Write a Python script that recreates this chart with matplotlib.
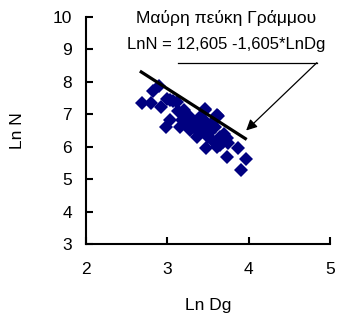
import numpy as np
import matplotlib.pyplot as plt

plt.rcParams['font.family'] = ['Liberation Sans', 'DejaVu Sans']

# observed points (Ln Dg, Ln N)
ln_dg = [2.69, 2.80, 2.82, 2.90, 2.92, 3.00, 3.03, 3.07, 3.12, 3.20, 3.03, 2.99,
         3.18, 3.28, 3.28, 3.36, 3.46, 3.40, 3.46, 3.40, 3.36, 3.50, 3.48, 3.61,
         3.59, 3.55, 3.65, 3.65, 3.73, 3.75, 3.61, 3.87, 3.74, 3.97, 3.91, 3.47,
         3.62, 3.16, 3.22, 3.32, 3.42, 3.52, 3.56, 3.70, 3.25, 3.44, 3.13, 3.68,
         3.38, 3.30]
ln_n = [7.36, 7.36, 7.72, 7.87, 7.23, 7.46, 7.44, 7.40, 7.39, 7.13, 6.82, 6.61,
        6.82, 6.92, 6.51, 6.72, 7.13, 6.92, 6.61, 6.41, 6.31, 6.31, 5.95, 6.98,
        6.61, 6.20, 6.31, 6.05, 6.26, 6.10, 6.00, 5.97, 5.69, 5.62, 5.28, 7.16,
        6.94, 6.61, 7.00, 6.60, 6.50, 6.45, 6.75, 6.40, 6.70, 6.85, 7.10, 6.15,
        6.55, 6.80]

# regression LnN = 12.605 - 1.605*LnDg
a, b = 12.605, -1.605
fit_x = np.array([2.68, 3.96])
fit_y = a + b * fit_x

fig = plt.figure(figsize=(3.37, 3.19), dpi=100)
ax = fig.add_axes([0.255, 0.235, 0.724, 0.712])

ax.plot(ln_dg, ln_n, 'D', color='#000080', markersize=7, markeredgewidth=0)
ax.plot(fit_x, fit_y, color='black', linewidth=2.3)

ax.set_xlim(2, 5)
ax.set_ylim(3, 10)
ax.set_xticks([2, 3, 4, 5])
ax.set_yticks(range(3, 11))
ax.spines['top'].set_visible(False)
ax.spines['right'].set_visible(False)
for s in ('left', 'bottom'):
    ax.spines[s].set_linewidth(1.5)
ax.tick_params(direction='in', length=5, width=1.5, labelsize=12.5, pad=10)
ax.tick_params(axis='x', pad=13)
ax.set_xlabel('Ln Dg', fontsize=12.5, labelpad=15)
ax.set_ylabel('Ln N', fontsize=12.5, labelpad=20)

ax.text(0.574, 0.996, 'Μαύρη πεύκη Γράμμου', transform=ax.transAxes,
        ha='center', va='center', fontsize=12.5)
ax.text(0.574, 0.877, 'LnN = 12,605 -1,605*LnDg', transform=ax.transAxes,
        ha='center', va='center', fontsize=12)
ax.plot([3.13, 4.84], [8.59, 8.59], color='black', linewidth=0.9, clip_on=False)
ax.annotate('', xy=(3.97, 6.5), xytext=(4.84, 8.59),
            arrowprops=dict(arrowstyle='-|>', color='black', lw=0.9,
                            mutation_scale=16, shrinkA=0, shrinkB=0))

fig.savefig('out.png', dpi=100)
